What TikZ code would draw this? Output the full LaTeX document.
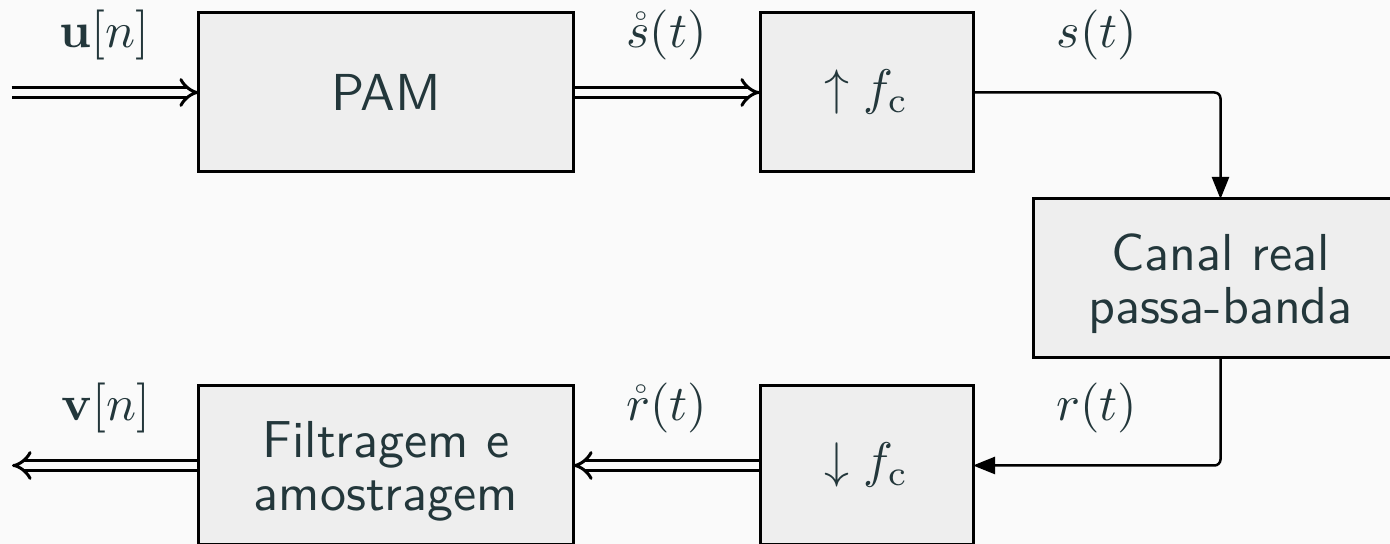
\documentclass[tikz,border=0pt]{standalone}
\usetikzlibrary{arrows.meta}
\definecolor{bgc}{HTML}{FAFAFA}
\definecolor{boxc}{HTML}{EEEEEE}
\definecolor{txtc}{HTML}{23373B}
\begin{document}
\begin{tikzpicture}[x=0.2pt,y=-0.2pt,
  font=\sffamily\fontsize{10.4}{10.6}\selectfont, text=txtc,
  blk/.style={draw=black, fill=boxc, line width=0.6pt, inner sep=0pt, outer sep=0pt, minimum height=31.8pt, align=center},
  wide/.style={blk, minimum width=74.8pt},
  narrow/.style={blk, minimum width=42.6pt},
  dbl/.style={double=bgc, double distance=1.35pt, line width=0.6pt, shorten <=0.3pt, -{Implies[scale=1.4]}},
  sgl/.style={line width=0.5pt, rounded corners=1.2pt, -{Triangle[length=4.4pt,width=3.4pt]}},
  lbl/.style={anchor=base, yshift=8.9pt}]
\clip (0,0) rectangle (1390,544);
\fill[bgc] (0,0) rectangle (1390,544);
\node[wide] (pam) at (386,92.5) {PAM};
\node[narrow] (up) at (866.5,92.5) {$\uparrow f_{\mathrm{c}}$};
\node[wide] (canal) at (1220.5,278.5) {\rule{0pt}{9.4pt}Canal real\\passa-banda};
\node[narrow] (down) at (866.5,465.5) {$\downarrow f_{\mathrm{c}}$};
\node[wide] (filt) at (386,465.5) {\rule{0pt}{9.4pt}Filtragem e\\amostragem};
\coordinate (in) at (10,92.5);
\coordinate (out) at (12,465.5);
\draw[dbl] (in) -- node[lbl]{$\mathbf{u}[n]$} (pam);
\draw[dbl] (pam) -- node[lbl]{$\mathring{s}(t)$} (up);
\draw[sgl] (up.east) -| node[pos=0.25,lbl]{$s(t)$} (canal.north);
\draw[sgl] (canal.south) |- node[pos=0.75,lbl]{$r(t)$} (down.east);
\draw[dbl] (down) -- node[lbl]{$\mathring{r}(t)$} (filt);
\draw[dbl] (filt) -- node[lbl]{$\mathbf{v}[n]$} (out);
\end{tikzpicture}
\end{document}
